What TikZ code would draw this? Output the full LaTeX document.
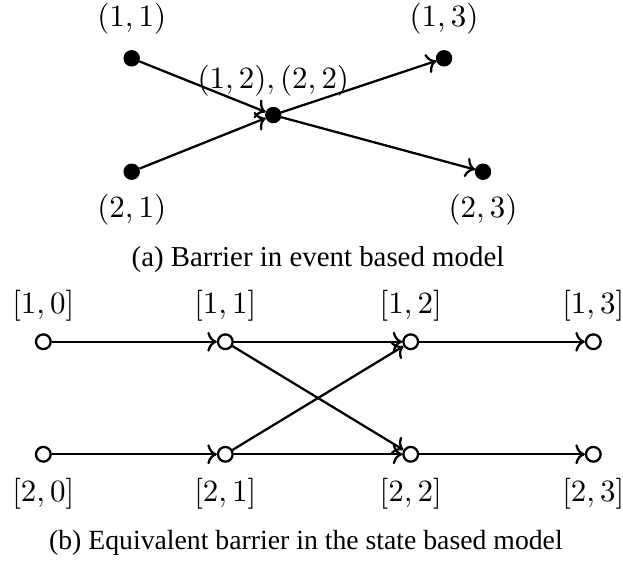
\documentclass[tikz,border=0pt]{standalone}
\usepackage{fontspec}
\newfontfamily\capfont{Liberation Serif}
\usepackage{tikz}
\usetikzlibrary{arrows.meta,positioning}
\tikzset{
  eventnode/.style={circle, fill=black, draw=black, inner sep=0pt, minimum size=5.4pt},
  statenode/.style={circle, fill=white, draw=black, thick, inner sep=0pt, minimum size=5.2pt},
  coordlabel/.style={inner sep=3.33pt, font=\fontsize{10.6}{12.5}\selectfont},
  normaledge/.style={->, draw=black, thick},
  captionnode/.style={font=\capfont\fontsize{10.2}{12}\selectfont, inner sep=0pt, anchor=base},
}

\begin{document}
\begin{tikzpicture}
  \useasboundingbox (0,0) rectangle (7.739,-6.957);
  % event based model
  \node[eventnode] (e11) at (1.636,-0.724) {};
  \node[eventnode] (e21) at (1.636,-2.133) {};
  \node[eventnode] (e22) at (3.395,-1.429) {};
  \node[eventnode] (e13) at (5.516,-0.724) {};
  \node[eventnode] (e23) at (6.0,-2.133) {};
  \node[coordlabel, above=2.1pt of e11] (l11) {$(1,1)$};
  \node[coordlabel, below=1.5pt of e21] (l21) {$(2,1)$};
  \node[coordlabel, above=0.3pt of e22] (l22) {$(1,2),(2,2)$};
  \node[coordlabel, above=2.1pt of e13] (l13) {$(1,3)$};
  \node[coordlabel, below=1.5pt of e23] (l23) {$(2,3)$};
  \draw[normaledge] (e11) -- (e22);
  \draw[normaledge] (e21) -- (e22);
  \draw[normaledge] (e22) -- (e13);
  \draw[normaledge] (e22) -- (e23);
  \node[captionnode] (capa) at (3.95,-3.313) {(a) Barrier in event based model};

  % state based model
  \node[statenode] (s10) at (0.538,-4.245) {};
  \node[statenode] (s11) at (2.799,-4.245) {};
  \node[statenode] (s12) at (5.102,-4.245) {};
  \node[statenode] (s13) at (7.370,-4.245) {};
  \node[statenode] (s20) at (0.538,-5.643) {};
  \node[statenode] (s21) at (2.799,-5.643) {};
  \node[statenode] (s22) at (5.102,-5.643) {};
  \node[statenode] (s23) at (7.370,-5.643) {};
  \node[coordlabel, above=0.8pt of s10] (m10) {$[1,0]$};
  \node[coordlabel, above=0.8pt of s11] (m11) {$[1,1]$};
  \node[coordlabel, above=0.8pt of s12] (m12) {$[1,2]$};
  \node[coordlabel, above=0.8pt of s13] (m13) {$[1,3]$};
  \node[coordlabel, below=2.1pt of s20] (m20) {$[2,0]$};
  \node[coordlabel, below=2.1pt of s21] (m21) {$[2,1]$};
  \node[coordlabel, below=2.1pt of s22] (m22) {$[2,2]$};
  \node[coordlabel, below=2.1pt of s23] (m23) {$[2,3]$};
  \draw[normaledge] (s10) -- (s11);
  \draw[normaledge] (s11) -- (s12);
  \draw[normaledge] (s12) -- (s13);
  \draw[normaledge] (s20) -- (s21);
  \draw[normaledge] (s21) -- (s22);
  \draw[normaledge] (s22) -- (s23);
  \draw[normaledge] (s11) -- (s22);
  \draw[normaledge] (s21) -- (s12);
  \node[captionnode, font=\capfont\fontsize{9.8}{12}\selectfont] (capb) at (3.80,-6.829) {(b) Equivalent barrier in the state based model};
\end{tikzpicture}
\end{document}
